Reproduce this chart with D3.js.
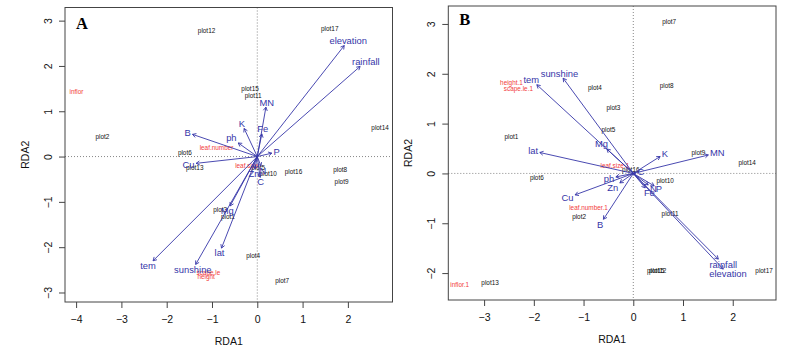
<!DOCTYPE html>
<html>
<head>
<meta charset="utf-8">
<script src="https://cdn.jsdelivr.net/npm/d3@7"></script>
<style>
  body { margin: 0; background: #fff; }
  text { font-family: "Liberation Sans", Arial, sans-serif; }
</style>
</head>
<body>
<svg id="chart" width="795" height="352"></svg>
<script>
// sites (plots), same order for both panels
const plotNames = ["plot1","plot2","plot3","plot4","plot5","plot6","plot7","plot8","plot9",
  "plot10","plot11","plot12","plot13","plot14","plot15","plot16","plot17"];
const plotsA = [[-0.65,-1.32],[-3.42,0.44],[-0.82,-1.18],[-0.09,-2.19],[0.02,-0.25],[-1.60,0.075],
  [0.55,-2.74],[1.83,-0.29],[1.86,-0.55],[0.24,-0.38],[-0.09,1.34],[-1.12,2.77],[-1.38,-0.24],
  [2.71,0.64],[-0.16,1.49],[0.80,-0.34],[1.60,2.83]];
const plotsB = [[-2.45,0.74],[-1.09,-0.88],[-0.40,1.32],[-0.77,1.72],[-0.50,0.87],[-1.94,-0.08],
  [0.72,3.04],[0.67,1.76],[1.31,0.42],[0.64,-0.15],[0.74,-0.82],[0.49,-1.96],[-2.88,-2.19],
  [2.29,0.22],[0.45,-1.95],[-0.05,0.07],[2.63,-1.96]];

// traits (red)
const traitNamesA = ["inflor","leaf.number","leaf.size","scape.le","height"];
const traitsA = [[-3.99,1.42],[-0.90,0.20],[-0.23,-0.20],[-1.08,-2.57],[-1.13,-2.65]];
const traitNamesB = ["inflor.1","leaf.number.1","leaf.size.1","scape.le.1","height.1"];
const traitsB = [[-3.49,-2.24],[-0.90,-0.69],[-0.37,0.15],[-2.31,1.70],[-2.45,1.82]];

// environmental arrows (blue)
const envNames = ["elevation","rainfall","MN","K","Fe","ph","B","P","Cu","Zn","N","C","Mg","lat","sunshine","tem"];
const envA = [[1.92,2.45],[2.27,1.99],[0.19,1.09],[-0.29,0.62],[0.10,0.50],[-0.42,0.30],[-1.43,0.49],
  [0.32,0.075],[-1.35,-0.15],[-0.05,-0.27],[0.08,-0.21],[0.06,-0.45],[-0.60,-1.09],[-0.79,-2.02],
  [-1.36,-2.38],[-2.30,-2.30]];
const envB = [[1.81,-1.92],[1.71,-1.72],[1.51,0.37],[0.54,0.34],[0.24,-0.29],[-0.35,-0.07],[-0.60,-0.92],
  [0.42,-0.25],[-1.17,-0.43],[-0.27,-0.19],[0.30,-0.23],[0.05,0.01],[-0.53,0.49],[-1.88,0.42],
  [-1.41,1.91],[-1.94,1.78]];

const xTicksA = [-4,-3,-2,-1,0,1,2];
const yTicksA = [-3,-2,-1,0,1,2,3];
const xTicksB = [-3,-2,-1,0,1,2];
const yTicksB = [-2,-1,0,1,2,3];

const svg = d3.select("#chart");
const blue = "#3535a8", red = "#f23c3c";
const fmt = d => (d < 0 ? "\u2212" + Math.abs(d) : String(d));

// rough text width for placing arrow labels (like vegan's ordiArrowTextXY)
const measure = svg.append("text").attr("font-size", 9.4).attr("visibility", "hidden");
function textWidth(s) { measure.text(s); return measure.node().getComputedTextLength(); }

function drawPanel(p) {
  const x = d3.scaleLinear().domain(p.xdom).range([p.left, p.right]);
  const y = d3.scaleLinear().domain(p.ydom).range([p.bottom, p.top]);
  const g = svg.append("g");

  // zero lines
  g.append("line").attr("x1", x(0)).attr("x2", x(0)).attr("y1", p.top).attr("y2", p.bottom)
    .attr("stroke", "#888").attr("stroke-dasharray", "1,2");
  g.append("line").attr("x1", p.left).attr("x2", p.right).attr("y1", y(0)).attr("y2", y(0))
    .attr("stroke", "#888").attr("stroke-dasharray", "1,2");

  // sites
  g.selectAll(".site").data(p.plots).enter().append("text")
    .attr("x", d => x(d[0])).attr("y", d => y(d[1]) + 2.2)
    .attr("text-anchor", "middle").attr("font-size", 6.4).attr("fill", "#111")
    .text((d, i) => plotNames[i]);

  // traits
  g.selectAll(".trait").data(p.traits).enter().append("text")
    .attr("x", d => x(d[0])).attr("y", d => y(d[1]) + 2.2)
    .attr("text-anchor", "middle").attr("font-size", 6.4).attr("fill", red)
    .text((d, i) => p.traitNames[i]);

  // arrows
  const ox = x(0), oy = y(0), hl = 4;
  p.env.forEach((d, i) => {
    const tx = x(d[0]), ty = y(d[1]);
    const ang = Math.atan2(ty - oy, tx - ox);
    g.append("line").attr("x1", ox).attr("y1", oy).attr("x2", tx).attr("y2", ty)
      .attr("stroke", blue).attr("stroke-width", 0.9);
    [-Math.PI / 6, Math.PI / 6].forEach(a => {
      g.append("line").attr("x1", tx).attr("y1", ty)
        .attr("x2", tx - hl * Math.cos(ang + a)).attr("y2", ty - hl * Math.sin(ang + a))
        .attr("stroke", blue).attr("stroke-width", 0.9);
    });
    // label position
    const vx = tx - ox, vy = oy - ty;
    const w = textWidth(envNames[i]), h = 6.7;
    const b = vy / vx;
    let o0 = Math.sign(vx) * (w / 2 + h / 4), o1 = 0.75 * h * Math.sign(vy);
    const move = o1 / b;
    if (isFinite(move) && Math.abs(move) <= Math.abs(o0)) o0 = move; else o1 = b * o0;
    g.append("text").attr("x", tx + o0).attr("y", ty - o1 + h / 2)
      .attr("text-anchor", "middle").attr("font-size", 9.4).attr("fill", blue)
      .text(envNames[i]);
  });

  // box
  g.append("rect").attr("x", p.left).attr("y", p.top)
    .attr("width", p.right - p.left).attr("height", p.bottom - p.top)
    .attr("fill", "none").attr("stroke", "#444").attr("stroke-width", 1);

  // axes
  const xa = g.append("g").attr("transform", `translate(0,${p.bottom})`)
    .call(d3.axisBottom(x).tickValues(p.xticks).tickFormat(fmt).tickSize(6).tickPadding(7.5));
  const ya = g.append("g").attr("transform", `translate(${p.left},0)`)
    .call(d3.axisLeft(y).tickValues(p.yticks).tickFormat(fmt).tickSize(6));
  [xa, ya].forEach(a => {
    a.select(".domain").remove();
    a.selectAll("line").attr("stroke", "#444");
    a.selectAll("text").attr("font-size", 10.5).attr("fill", "#111")
      .style("font-family", '"Liberation Sans", Arial, sans-serif');
  });
  ya.selectAll("text").attr("text-anchor", "middle").attr("dy", null)
    .attr("x", 0).attr("y", -13.5).attr("transform", "rotate(-90)");

  // titles
  g.append("text").attr("x", (p.left + p.right) / 2).attr("y", p.bottom + 43)
    .attr("text-anchor", "middle").attr("font-size", 10.5).attr("fill", "#111").text("RDA1");
  g.append("text").attr("transform", `translate(${p.left - 36},${(p.top + p.bottom) / 2}) rotate(-90)`)
    .attr("text-anchor", "middle").attr("font-size", 10.5).attr("fill", "#111").text("RDA2");
  g.append("text").attr("x", p.left + 11).attr("y", p.top + p.letterY)
    .style("font-family", '"Liberation Serif", "Times New Roman", serif')
    .attr("font-weight", "bold").attr("font-size", 16.5).attr("fill", "#000").text(p.letter);
}

drawPanel({ letter: "A", letterY: 21, left: 65, right: 392.5, top: 7.5, bottom: 302,
  xdom: [-4.245, 2.985], ydom: [-3.21, 3.29], xticks: xTicksA, yticks: yTicksA,
  plots: plotsA, traits: traitsA, traitNames: traitNamesA, env: envA });
drawPanel({ letter: "B", letterY: 18.5, left: 448.3, right: 776, top: 6, bottom: 300,
  xdom: [-3.72, 2.87], ydom: [-2.54, 3.36], xticks: xTicksB, yticks: yTicksB,
  plots: plotsB, traits: traitsB, traitNames: traitNamesB, env: envB });
</script>
</body>
</html>
